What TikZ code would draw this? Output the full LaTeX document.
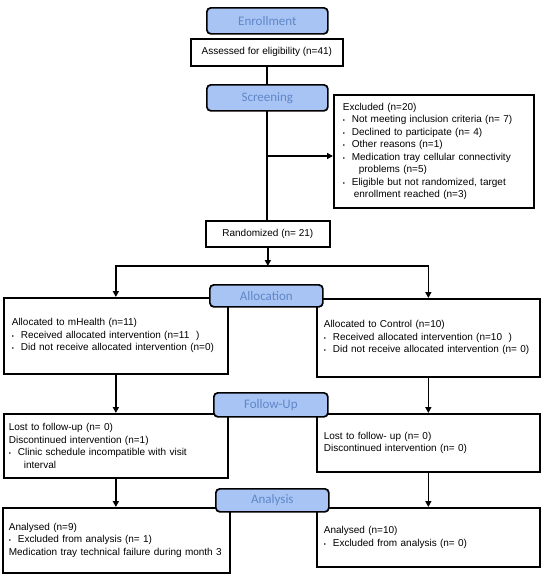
\documentclass[tikz,border=0pt]{standalone}
\usepackage{fontspec}
\setmainfont{Liberation Sans}
\newfontfamily\stagefont{Carlito}
\usetikzlibrary{arrows.meta}
\definecolor{stagefill}{RGB}{168,196,244}
\definecolor{stagetext}{RGB}{96,135,200}
\newcommand\bul{\makebox[9pt][l]{\fontsize{6pt}{6pt}\selectfont\textbullet}}

\begin{document}
\begin{tikzpicture}[x=1pt,y=-1pt,>={Triangle[length=6pt,width=6pt]},line width=1.7pt,
  txtbox/.style={draw,fill=white,anchor=north west,inner ysep=0pt,inner xsep=7pt,align=left,font=\fontsize{10pt}{12.5pt}\selectfont},
  midbox/.style={draw,fill=white,anchor=north west,inner sep=0pt,font=\fontsize{10pt}{12pt}\selectfont},
  stage/.style={draw,rounded corners=4pt,fill=stagefill,text=stagetext,anchor=north west,inner sep=0pt,font=\stagefont\fontsize{13pt}{13pt}\selectfont}]
\useasboundingbox (0,0) rectangle (541,574);
\node[midbox,minimum width=152pt,minimum height=27pt] (assess) at (190,38) {Assessed for eligibility (n=41)};
\node[txtbox,inner xsep=9pt,text width=182pt,minimum height=113pt] (excl) at (333,94) {Excluded (n=20)\\
\bul Not meeting inclusion criteria (n= 7)\\
\bul Declined to participate (n= 4)\\
\bul Other reasons (n=1)\\
\bul Medication tray cellular connectivity\\
\hspace*{16pt}problems (n=5)\\
\bul Eligible but not randomized, target\\
\hspace*{11pt}enrollment reached (n=3)};
\node[midbox,minimum width=124pt,minimum height=26pt] (rand) at (205,220) {Randomized (n= 21)};
\node[txtbox,inner xsep=8pt,text width=208pt,minimum height=76pt] (mhA) at (3,297) {Allocated to mHealth (n=11)\\
\bul Received allocated intervention (n=11\ \ )\\
\bul Did not receive allocated intervention (n=0)};
\node[txtbox,text width=209pt,minimum height=78pt] (ctA) at (316,298) {Allocated to Control (n=10)\\
\bul Received allocated intervention (n=10\ \ )\\
\bul Did not receive allocated intervention (n= 0)};
\node[txtbox,inner xsep=5pt,text width=214pt,minimum height=64pt] (mhF) at (3,413) {Lost to follow-up (n= 0)\\
Discontinued intervention (n=1)\\
\bul Clinic schedule incompatible with visit\\
\hspace*{15pt}interval};
\node[txtbox,text width=209pt,minimum height=58pt] (ctF) at (316,413) {Lost to follow- up (n= 0)\\
Discontinued intervention (n= 0)};
\node[txtbox,inner xsep=6pt,text width=215pt,minimum height=65pt] (mhN) at (2,507) {Analysed (n=9)\\
\bul Excluded from analysis (n= 1)\\
Medication tray technical failure during month 3};
\node[txtbox,text width=209pt,minimum height=59pt] (ctN) at (316,507) {Analysed (n=10)\\
\bul Excluded from analysis (n= 0)};
\draw (assess.south) -- (assess.south |- rand.north);
\coordinate (branch) at (assess.south |- 0,156);
\draw[->] (branch) -- (branch -| excl.west);
\coordinate (fork) at (rand.south |- 0,266);
\draw[->] (rand.south) -- (fork);
\draw[->] (fork) -| (mhA.north);
\draw[->] (fork) -| (ctA.north);
\draw[->] (mhA.south) -- (mhF.north);
\draw[->] (ctA.south) -- (ctF.north);
\draw[->] (mhF.south) -- (mhF.south |- mhN.north);
\draw[->] (ctF.south) -- (ctN.north);
\node[stage,minimum width=121pt,minimum height=26pt] (enroll) at (206,7) {Enrollment};
\node[stage,minimum width=121pt,minimum height=26pt] (screen) at (206,84) {Screening};
\node[stage,minimum width=113pt,minimum height=22pt] (alloc) at (209,284) {Allocation};
\node[stage,minimum width=114pt,minimum height=24pt] (follow) at (213,392) {Follow-Up};
\node[stage,minimum width=113pt,minimum height=23pt] (analy) at (215,488) {Analysis};
\end{tikzpicture}
\end{document}
